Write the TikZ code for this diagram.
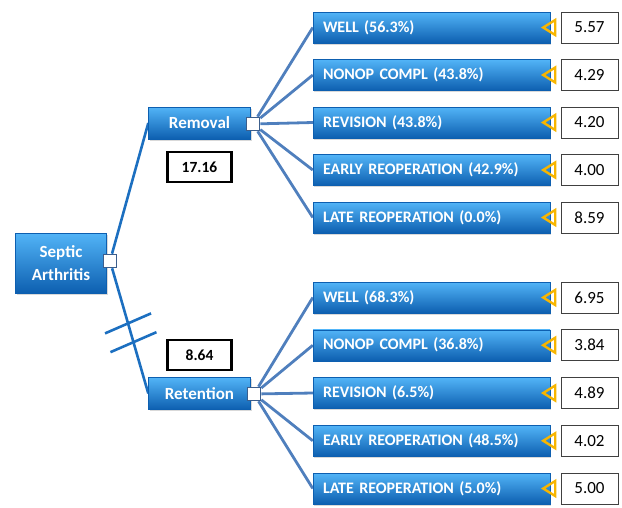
\documentclass[tikz,border=0pt]{standalone}
\usepackage{fontspec}
\setmainfont{Carlito}
\usetikzlibrary{positioning,calc,shadows}
\definecolor{boxtop}{HTML}{52B4F7}
\definecolor{boxmid}{HTML}{1E83DA}
\definecolor{boxbot}{HTML}{0D5FB0}
\definecolor{branchblue}{HTML}{1C6FC0}
\definecolor{leafblue}{HTML}{4F7FBD}
\definecolor{squareedge}{HTML}{3C5E8C}
\definecolor{tipyellow}{HTML}{F7B500}
\pgfdeclarelayer{bg}
\pgfsetlayers{bg,main}

\tikzset{
  bluebox/.style={draw=boxbot, line width=0.4pt, top color=boxtop, middle color=boxmid,
    bottom color=boxbot, text=white, inner sep=0pt,
    drop shadow={shadow xshift=1.2pt, shadow yshift=-1.5pt, opacity=0.3}},
  rootbox/.style={bluebox, minimum width=91pt, minimum height=60pt, align=center,
    font=\fontsize{17}{23}\selectfont\bfseries},
  stratbox/.style={bluebox, minimum width=102pt, minimum height=32pt,
    font=\fontsize{17}{20}\selectfont\bfseries},
  leafbox/.style={bluebox, minimum height=31pt, text width=217pt, inner xsep=10pt,
    align=left, font=\fontsize{16}{19}\selectfont\bfseries},
  valbox/.style={draw=black!75, line width=0.8pt, fill=white, minimum width=57pt,
    minimum height=31pt, inner sep=0pt, font=\fontsize{17}{20}\selectfont},
  scorebox/.style={draw=black, line width=2.2pt, fill=white, minimum width=64pt,
    minimum height=30pt, inner sep=0pt, font=\fontsize{15.5}{18}\selectfont\bfseries},
  square/.style={draw=squareedge, line width=1.6pt, fill=white, minimum size=13pt,
    inner sep=0pt},
  branch/.style={branchblue, line width=2.6pt},
  leafline/.style={leafblue, line width=2.8pt},
  tip/.style={tipyellow, line width=2.4pt, line join=miter}
}

\begin{document}
\begin{tikzpicture}[x=1pt,y=-1pt]
  \useasboundingbox (0,0) rectangle (622,507);

  % Decision
  \node[rootbox] (root) at (61,263) {Septic\\Arthritis};
  \node[square] (rootsq) at (110,261) {};

  % Strategies
  \node[stratbox] (rem) at (199.5,123) {Removal};
  \node[stratbox] (ret) at (199.5,393.5) {Retention};
  \node[square] (remsq) at (253,124) {};
  \node[square] (retsq) at (254,394) {};
  \node[scorebox, below=12pt of rem] (remval) {17.16};
  \node[scorebox, above=6pt of ret] (retval) {8.64};

  \begin{pgfonlayer}{bg}
    \draw[branch] (rootsq) -- (rem.west);
    \draw[branch] (rootsq) -- (ret.west)
      coordinate[pos=0.44] (cut1) coordinate[pos=0.59] (cut2);
  \end{pgfonlayer}
  % Hash marks on the retention branch
  \draw[branch] ($(cut1)+(-23,10)$) -- ($(cut1)+(23,-10)$);
  \draw[branch] ($(cut2)+(-23,10)$) -- ($(cut2)+(23,-10)$);

  % Removal outcomes
  \foreach \lab/\val [count=\k] in {WELL (56.3\%)/5.57, NONOP COMPL (43.8\%)/4.29,
      REVISION (43.8\%)/4.20, EARLY REOPERATION (42.9\%)/4.00,
      LATE REOPERATION (0.0\%)/8.59}{
    \node[leafbox] (rl\k) at (431.5,{27.5+47.5*(\k-1)}) {\lab};
    \node[valbox] (rv\k) at (589.5,{27.5+47.5*(\k-1)}) {\val};
    \draw[tip] ($(rl\k.east)+(-7,0)$) -- ++(12,-7.5) -- ++(0,15) -- cycle;
    \begin{pgfonlayer}{bg}
      \draw[leafline] (remsq) -- (rl\k.west);
    \end{pgfonlayer}
  }

  % Retention outcomes
  \foreach \lab/\val [count=\k] in {WELL (68.3\%)/6.95, NONOP COMPL (36.8\%)/3.84,
      REVISION (6.5\%)/4.89, EARLY REOPERATION (48.5\%)/4.02,
      LATE REOPERATION (5.0\%)/5.00}{
    \node[leafbox] (tl\k) at (431.5,{297.5+47.75*(\k-1)}) {\lab};
    \node[valbox] (tv\k) at (589.5,{297.5+47.75*(\k-1)}) {\val};
    \draw[tip] ($(tl\k.east)+(-7,0)$) -- ++(12,-7.5) -- ++(0,15) -- cycle;
    \begin{pgfonlayer}{bg}
      \draw[leafline] (retsq) -- (tl\k.west);
    \end{pgfonlayer}
  }
\end{tikzpicture}
\end{document}
